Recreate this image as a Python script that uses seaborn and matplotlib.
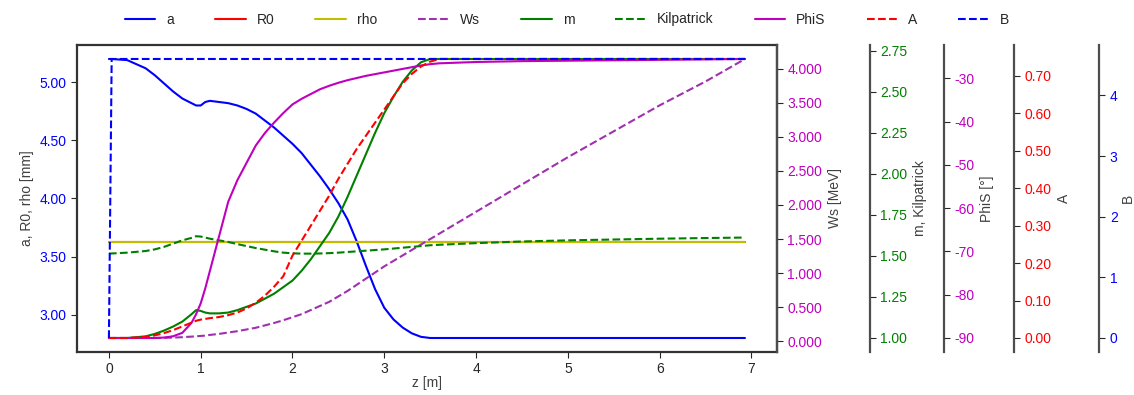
import matplotlib
matplotlib.use("Agg")
from matplotlib import pyplot as plt
from matplotlib.ticker import MultipleLocator, FormatStrFormatter
import seaborn as sns

# longitudinal position along the structure
z = [0, 0.03, 0.2, 0.4, 0.5, 0.6, 0.7, 0.8, 0.9, 0.95,
     1.0, 1.05, 1.1, 1.2, 1.3, 1.4, 1.5, 1.6, 1.7, 1.8,
     1.9, 2.0, 2.1, 2.2, 2.3, 2.4, 2.5, 2.6, 2.7, 2.8,
     2.9, 3.0, 3.1, 3.2, 3.3, 3.4, 3.5, 3.6, 4.0, 4.5,
     5.0, 5.5, 6.0, 6.5, 6.93]

a = [5.20, 5.20, 5.19, 5.12, 5.06, 4.99, 4.92, 4.86, 4.82, 4.80,
     4.80, 4.83, 4.84, 4.83, 4.82, 4.80, 4.77, 4.73, 4.67, 4.61,
     4.54, 4.47, 4.39, 4.29, 4.19, 4.08, 3.96, 3.82, 3.63, 3.42,
     3.22, 3.06, 2.96, 2.89, 2.84, 2.81, 2.80, 2.80, 2.80, 2.80,
     2.80, 2.80, 2.80, 2.80, 2.80]

R0 = [3.63] * len(z)
rho = [3.63] * len(z)

Ws = [0.05, 0.05, 0.05, 0.05, 0.05, 0.052, 0.056, 0.062, 0.07, 0.075,
      0.08, 0.085, 0.095, 0.11, 0.13, 0.15, 0.175, 0.20, 0.235, 0.27,
      0.31, 0.355, 0.40, 0.46, 0.52, 0.58, 0.66, 0.74, 0.83, 0.92,
      1.01, 1.10, 1.18, 1.26, 1.34, 1.42, 1.50, 1.58, 1.90, 2.30,
      2.70, 3.08, 3.46, 3.81, 4.14]

m = [1.0, 1.0, 1.0, 1.01, 1.025, 1.045, 1.07, 1.10, 1.145, 1.17,
     1.165, 1.155, 1.15, 1.15, 1.155, 1.17, 1.19, 1.21, 1.24, 1.27,
     1.31, 1.35, 1.41, 1.48, 1.56, 1.64, 1.74, 1.86, 1.99, 2.12,
     2.25, 2.37, 2.47, 2.56, 2.63, 2.68, 2.70, 2.70, 2.70, 2.70,
     2.70, 2.70, 2.70, 2.70, 2.70]

kilpatrick = [1.515, 1.515, 1.52, 1.53, 1.54, 1.555, 1.575, 1.595, 1.61, 1.62,
              1.618, 1.612, 1.605, 1.595, 1.585, 1.572, 1.56, 1.548, 1.538, 1.528,
              1.52, 1.516, 1.514, 1.514, 1.515, 1.517, 1.52, 1.524, 1.528, 1.532,
              1.536, 1.54, 1.545, 1.55, 1.555, 1.56, 1.565, 1.568, 1.578, 1.588,
              1.595, 1.600, 1.605, 1.609, 1.612]

PhiS = [-90, -90, -90, -90, -90, -89.9, -89.6, -88.8, -86.5, -84.5,
        -82.0, -78.5, -74.5, -66.5, -58.5, -53.5, -49.5, -45.5, -42.6, -40.2,
        -38.0, -36.0, -34.7, -33.6, -32.5, -31.7, -31.0, -30.4, -29.9, -29.4,
        -29.0, -28.6, -28.2, -27.8, -27.4, -27.0, -26.7, -26.5, -26.2, -26.0,
        -25.9, -25.8, -25.7, -25.6, -25.5]

A = [0.0, 0.0, 0.0, 0.003, 0.007, 0.013, 0.021, 0.031, 0.041, 0.046,
     0.049, 0.051, 0.053, 0.056, 0.061, 0.068, 0.079, 0.094, 0.113, 0.137,
     0.165, 0.22, 0.26, 0.30, 0.34, 0.38, 0.425, 0.465, 0.505, 0.54,
     0.575, 0.61, 0.645, 0.68, 0.705, 0.725, 0.738, 0.745, 0.745, 0.745,
     0.745, 0.745, 0.745, 0.745, 0.745]

B = [0.0] + [4.6] * (len(z) - 1)

sns.set_style("ticks")
plt.rcParams["font.family"] = ["Liberation Sans", "DejaVu Sans"]
plt.rcParams["font.size"] = 10

fig = plt.figure(figsize=(11.34, 3.95), dpi=100)
ax = fig.add_axes([0.068, 0.109, 0.617, 0.777])

lw = 1.5
sns.lineplot(x=z, y=a, ax=ax, color="b", label="a", legend=False, lw=lw)
sns.lineplot(x=z, y=R0, ax=ax, color="r", label="R0", legend=False, lw=lw)
sns.lineplot(x=z, y=rho, ax=ax, color="y", label="rho", legend=False, lw=lw)
ax.set_ylabel("a, R0, rho [mm]", color="0.25")
ax.set_xlabel("z [m]", labelpad=0, color="0.25")
ax.yaxis.set_major_locator(MultipleLocator(0.5))
ax.yaxis.set_major_formatter(FormatStrFormatter("%.2f"))
ax.tick_params(axis="y", labelcolor="b")
ax.xaxis.set_major_locator(MultipleLocator(1))
for side in ax.spines:
    ax.spines[side].set_linewidth(1.6)
    ax.spines[side].set_color("0.2")

# extra y axes: (series list, label, color, step, fmt, spine offset)
extra = [
    ([("Ws", Ws, "#a030b0", "--")], "Ws [MeV]", "m", 0.5, "%.3f", 1.0),
    ([("m", m, "g", "-"), ("Kilpatrick", kilpatrick, "g", "--")],
     "m, Kilpatrick", "g", 0.25, "%.2f", 1.133),
    ([("PhiS", PhiS, "m", "-")], "PhiS [°]", "m", 10, "%d", 1.239),
    ([("A", A, "r", "--")], "A", "r", 0.1, "%.2f", 1.339),
    ([("B", B, "b", "--")], "B", "b", 1, "%d", 1.461),
]

handles, labels = ax.get_legend_handles_labels()
for series, ylabel, tcolor, step, fmt, offset in extra:
    tw = ax.twinx()
    for name, vals, col, ls in series:
        sns.lineplot(x=z, y=vals, ax=tw, color=col, label=name,
                     legend=False, lw=lw, linestyle=ls)
    for side in ["top", "left", "bottom"]:
        tw.spines[side].set_visible(False)
    tw.spines["right"].set_position(("axes", offset))
    tw.spines["right"].set_color("0.3")
    tw.spines["right"].set_linewidth(1.6)
    tw.yaxis.set_major_locator(MultipleLocator(step))
    tw.yaxis.set_major_formatter(FormatStrFormatter(fmt))
    tw.tick_params(axis="y", labelcolor=tcolor, length=4)
    tw.set_ylabel(ylabel, color="0.25", labelpad=2 if ylabel == "B" else 4)
    h, l = tw.get_legend_handles_labels()
    handles += h
    labels += l

ax.tick_params(length=4)
fig.legend(handles, labels, loc="upper center", bbox_to_anchor=(0.5, 1.0),
           ncol=9, frameon=False, handlelength=2.2, columnspacing=2.95)

fig.savefig("out.png", dpi=100)
